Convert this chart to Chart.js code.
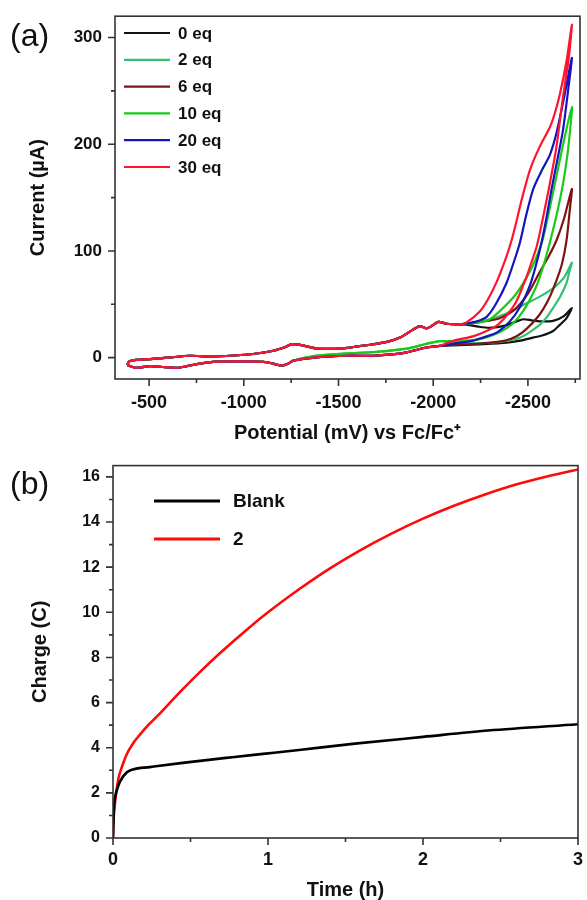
<!DOCTYPE html>
<html>
<head>
<meta charset="utf-8">
<script src="https://cdn.jsdelivr.net/npm/chart.js@4.4.1/dist/chart.umd.min.js"></script>
<style>
html,body{margin:0;padding:0;background:#fff;}
#wrap{position:relative;width:587px;height:900px;overflow:hidden;background:#fff;}
.panel{position:absolute;left:0;width:587px;height:450px;}
#pa{top:0;}
#pb{top:450px;}
.lab{position:absolute;left:10px;font-family:'Liberation Sans',Arial,sans-serif;font-size:32px;line-height:36px;color:#111;}
</style>
</head>
<body>
<div id="wrap">
  <div class="panel" id="pa"><canvas id="ca" width="587" height="450"></canvas></div>
  <div class="panel" id="pb"><canvas id="cb" width="587" height="450"></canvas></div>
  <div class="lab" style="top:17px;">(a)</div>
  <div class="lab" style="top:465px;">(b)</div>
</div>
<script>
// ---------- Panel (a): cyclic voltammograms ----------
// potential (mV vs Fc/Fc+), current (µA)
const cvForwardBase = [[-385,-7],[-395,-3.5],[-435,-2],[-505,-1.3],[-600,0],[-716,1.8],[-822,1],[-950,2],[-1050,3.4],[-1156,6.5],[-1220,10],[-1253,12.7],[-1297,12],[-1385,8.6],[-1508,8.5],[-1600,10.5],[-1684,12.6],[-1760,15],[-1825,18.8],[-1895,26.5],[-1930,29.6],[-1965,27.5],[-1992,29.6],[-2027,33.6],[-2071,31.8],[-2141,31.2]];
const cvReturnBase = [[-2035,11],[-1965,9.5],[-1860,5],[-1780,3],[-1684,1.8],[-1543,1.8],[-1385,0.3],[-1262,-2.8],[-1230,-6],[-1200,-7.4],[-1121,-4.3],[-1000,-3.5],[-857,-3.7],[-752,-6],[-700,-8],[-646,-9.5],[-560,-8.5],[-505,-8],[-430,-9.5],[-385,-7]];
const cvReturnGreenHead = [[-2035,15.5],[-1965,13],[-1860,8.5],[-1700,5.5],[-1543,4],[-1385,2]];

const cvEq0 = [[-2176,31],[-2240,29],[-2299,28],[-2380,30],[-2440,34],[-2475,36],[-2520,35],[-2563,34],[-2633,34.5],[-2690,39],[-2732,46.6],[-2704,37],[-2670,31],[-2633,25],[-2580,21],[-2528,18.8],[-2460,16],[-2387,14],[-2264,12.6],[-2176,12],[-2100,11.5]];
const cvEq2 = [[-2176,32],[-2240,33.5],[-2300,36],[-2380,41],[-2440,46],[-2493,51],[-2560,57],[-2633,65],[-2690,75],[-2732,89],[-2718,80],[-2704,70],[-2670,57],[-2633,46.6],[-2600,38],[-2563,31],[-2510,24],[-2458,18.8],[-2380,15.5],[-2300,14],[-2200,13.5],[-2100,14]];
const cvEq6 = [[-2176,32],[-2250,33.5],[-2352,37],[-2430,45],[-2500,60],[-2563,80.5],[-2610,95],[-2651,110],[-2690,130],[-2732,158],[-2722,140],[-2704,110],[-2680,88],[-2650,72],[-2610,55],[-2560,40],[-2493,27],[-2440,20],[-2380,16],[-2300,14],[-2200,12.8],[-2100,12]];
const cvEq10 = [[-2176,32],[-2240,33],[-2299,36],[-2360,45],[-2430,58],[-2493,75],[-2540,92],[-2580,112],[-2633,155],[-2680,195],[-2732,235],[-2712,195],[-2690,168],[-2669,148],[-2640,125],[-2616,108],[-2580,85],[-2540,65],[-2480,45],[-2420,32],[-2352,24],[-2280,19],[-2211,16.5],[-2100,15.5]];
const cvEq20 = [[-2176,32],[-2230,34],[-2281,38],[-2330,50],[-2387,70],[-2430,92],[-2458,108],[-2493,135],[-2528,158],[-2575,176],[-2616,190],[-2650,210],[-2690,243],[-2732,281],[-2712,250],[-2685,213],[-2655,185],[-2625,158],[-2600,133],[-2572,108],[-2540,85],[-2511,68],[-2460,48],[-2405,34],[-2340,24],[-2299,21],[-2211,16],[-2100,13]];
const cvEq30 = [[-2176,33],[-2247,43.5],[-2290,55],[-2335,71],[-2387,95],[-2414,110],[-2440,128],[-2467,148],[-2511,176],[-2563,198],[-2616,216],[-2642,229],[-2669,247],[-2704,278],[-2732,312],[-2715,280],[-2685,244],[-2651,198],[-2625,172],[-2599,148],[-2563,117],[-2546,104],[-2520,90],[-2493,76],[-2440,53],[-2390,40],[-2335,30],[-2270,24],[-2210,20],[-2110,16]];

const cvLabels = ['0 eq','2 eq','6 eq','10 eq','20 eq','30 eq'];
const cvColors = ['#111111','#33c070','#7d1414','#16cc16','#1414c0','#ff1430'];
const cvTails = [cvEq0, cvEq2, cvEq6, cvEq10, cvEq20, cvEq30];
const cvGreenReturn = [false, true, false, true, false, false];

const aXTicks = [-500,-1000,-1500,-2000,-2500];
const aXMinor = [-750,-1250,-1750,-2250,-2750];
const aYTicks = [0,100,200,300];
const aYMinor = [50,150,250];

// ---------- Panel (b): charge vs time ----------
const timeBlank = [0,0.004,0.008,0.015,0.024,0.045,0.088,0.13,0.237,0.45,0.77,1.0,1.2,1.56,2.0,2.42,3.0];
const chargeBlank = [0,0.9,1.5,1.85,2.1,2.5,2.9,3.04,3.14,3.33,3.58,3.75,3.9,4.18,4.48,4.76,5.04];
const time2 = [0,0.004,0.012,0.034,0.06,0.088,0.13,0.17,0.23,0.3,0.43,0.56,0.7,0.88,1.0,1.2,1.4,1.6,1.8,2.0,2.2,2.4,2.6,2.8,3.0];
const charge2 = [0,0.9,1.5,2.6,3.2,3.7,4.2,4.55,5.02,5.5,6.45,7.35,8.25,9.33,10.0,11.02,11.95,12.77,13.5,14.15,14.72,15.22,15.66,16.02,16.33];
const bLabels = ['Blank','2'];
const bColors = ['#000000','#ff0a0a'];

const bXTicks = [0,1,2,3];
const bXMinor = [0.5,1.5,2.5];
const bYTicks = [0,2,4,6,8,10,12,14,16];
const bYMinor = [1,3,5,7,9,11,13,15];

// ---------- shared setup ----------
const FONT = "'Liberation Sans', Arial, Helvetica, sans-serif";
Chart.defaults.font.family = FONT;
Chart.defaults.color = '#111';

const decor = {
  id: 'panelDecor',
  afterDraw(chart, args, o) {
    const {ctx, chartArea: a, scales} = chart;
    const sx = scales.x, sy = scales.y;
    ctx.save();
    ctx.strokeStyle = '#333';
    ctx.lineWidth = 1.6;
    ctx.strokeRect(a.left, a.top, a.right - a.left, a.bottom - a.top);
    ctx.beginPath();
    o.xMajor.forEach(v => { const p = sx.getPixelForValue(v); ctx.moveTo(p, a.bottom); ctx.lineTo(p, a.bottom + 7); });
    o.xMinor.forEach(v => { const p = sx.getPixelForValue(v); ctx.moveTo(p, a.bottom); ctx.lineTo(p, a.bottom + 4); });
    o.yMajor.forEach(v => { const p = sy.getPixelForValue(v); ctx.moveTo(a.left - 7, p); ctx.lineTo(a.left, p); });
    o.yMinor.forEach(v => { const p = sy.getPixelForValue(v); ctx.moveTo(a.left - 4, p); ctx.lineTo(a.left, p); });
    ctx.stroke();
    // legend
    ctx.font = o.legendFont;
    ctx.textBaseline = 'middle';
    ctx.textAlign = 'left';
    chart.data.datasets.forEach((ds, i) => {
      const yy = o.legendY0 + i * o.legendDy;
      ctx.strokeStyle = ds.borderColor;
      ctx.lineWidth = o.legendLW;
      ctx.beginPath();
      ctx.moveTo(o.legendX0, yy);
      ctx.lineTo(o.legendX1, yy);
      ctx.stroke();
      ctx.fillStyle = '#111';
      ctx.fillText(ds.label, o.legendTx, yy + 1);
    });
    ctx.restore();
  }
};

function fixedTicks(values) {
  return (scale) => { scale.ticks = values.map(v => ({value: v})); };
}

// ---------- chart (a) ----------
const cvDatasets = cvTails.map((tail, i) => {
  const ret = cvGreenReturn[i]
    ? cvReturnGreenHead.concat(cvReturnBase.filter(p => p[0] > -1300))
    : cvReturnBase;
  const pts = cvForwardBase.concat(tail, ret).map(p => ({x: p[0], y: p[1]}));
  return {
    label: cvLabels[i],
    data: pts,
    borderColor: cvColors[i],
    backgroundColor: cvColors[i],
    borderWidth: 2.2,
    pointRadius: 0,
    tension: 0.25,
    fill: false,
    order: cvTails.length - i
  };
});

new Chart(document.getElementById('ca'), {
  type: 'line',
  data: { datasets: cvDatasets },
  options: {
    responsive: false,
    animation: false,
    devicePixelRatio: 1,
    layout: { padding: { top: 12, right: 7, left: 0, bottom: 0 } },
    plugins: {
      legend: { display: false },
      tooltip: { enabled: false },
      panelDecor: {
        xMajor: aXTicks, xMinor: aXMinor, yMajor: aYTicks, yMinor: aYMinor,
        legendX0: 124, legendX1: 170, legendTx: 178, legendY0: 33, legendDy: 26.8,
        legendLW: 2.2, legendFont: 'bold 17px ' + FONT
      }
    },
    scales: {
      x: {
        type: 'linear', reverse: true, min: -2775, max: -320,
        afterBuildTicks: fixedTicks(aXTicks),
        afterFit: (s) => { s.height = 71; },
        grid: { display: false, drawTicks: true, tickLength: 7 },
        border: { display: false },
        ticks: { padding: 6, maxRotation: 0, autoSkip: false, font: { size: 18, weight: 'bold' }, color: '#111', callback: (v) => String(v) },
        title: { display: true, text: 'Potential (mV) vs Fc/Fc\u207A', font: { size: 20, weight: 'bold', lineHeight: 1 }, color: '#111', padding: { top: 0, bottom: 7 } }
      },
      y: {
        type: 'linear', min: -20, max: 320,
        afterBuildTicks: fixedTicks(aYTicks),
        afterFit: (s) => { s.width = 115; },
        grid: { display: false, drawTicks: true, tickLength: 7 },
        border: { display: false },
        ticks: { padding: 6, autoSkip: false, font: { size: 17, weight: 'bold' }, color: '#111', callback: (v) => String(v) },
        title: { display: true, text: 'Current (\u00B5A)', font: { size: 20, weight: 'bold', lineHeight: 1 }, color: '#111', padding: { top: 28, bottom: 0 } }
      }
    }
  },
  plugins: [decor]
});

// ---------- chart (b) ----------
function pairs(xs, ys) { return xs.map((x, i) => ({x: x, y: ys[i]})); }

new Chart(document.getElementById('cb'), {
  type: 'line',
  data: {
    datasets: [
      { label: bLabels[0], data: pairs(timeBlank, chargeBlank), borderColor: bColors[0], backgroundColor: bColors[0], borderWidth: 2.6, pointRadius: 0, cubicInterpolationMode: 'monotone', fill: false, order: 1 },
      { label: bLabels[1], data: pairs(time2, charge2), borderColor: bColors[1], backgroundColor: bColors[1], borderWidth: 2.6, pointRadius: 0, cubicInterpolationMode: 'monotone', fill: false, order: 2 }
    ]
  },
  options: {
    responsive: false,
    animation: false,
    devicePixelRatio: 1,
    layout: { padding: { top: 11, right: 6, left: 0, bottom: 0 } },
    plugins: {
      legend: { display: false },
      tooltip: { enabled: false },
      panelDecor: {
        xMajor: bXTicks, xMinor: bXMinor, yMajor: bYTicks, yMinor: bYMinor,
        legendX0: 154, legendX1: 220, legendTx: 233, legendY0: 51, legendDy: 38,
        legendLW: 3, legendFont: 'bold 19px ' + FONT
      }
    },
    scales: {
      x: {
        type: 'linear', min: 0, max: 3,
        afterBuildTicks: fixedTicks(bXTicks),
        afterFit: (s) => { s.height = 62; },
        grid: { display: false, drawTicks: true, tickLength: 7 },
        border: { display: false },
        ticks: { padding: 4, maxRotation: 0, autoSkip: false, font: { size: 18, weight: 'bold' }, color: '#111', callback: (v) => String(v) },
        title: { display: true, text: 'Time (h)', font: { size: 20, weight: 'bold', lineHeight: 1 }, color: '#111', padding: { top: 0, bottom: 0 } }
      },
      y: {
        type: 'linear', min: 0, max: 16.5,
        afterBuildTicks: fixedTicks(bYTicks),
        afterFit: (s) => { s.width = 113; },
        grid: { display: false, drawTicks: true, tickLength: 7 },
        border: { display: false },
        ticks: { padding: 6, autoSkip: false, font: { size: 16, weight: 'bold' }, color: '#111', callback: (v) => String(v) },
        title: { display: true, text: 'Charge (C)', font: { size: 20, weight: 'bold', lineHeight: 1 }, color: '#111', padding: { top: 30, bottom: 0 } }
      }
    }
  },
  plugins: [decor]
});
</script>
</body>
</html>
